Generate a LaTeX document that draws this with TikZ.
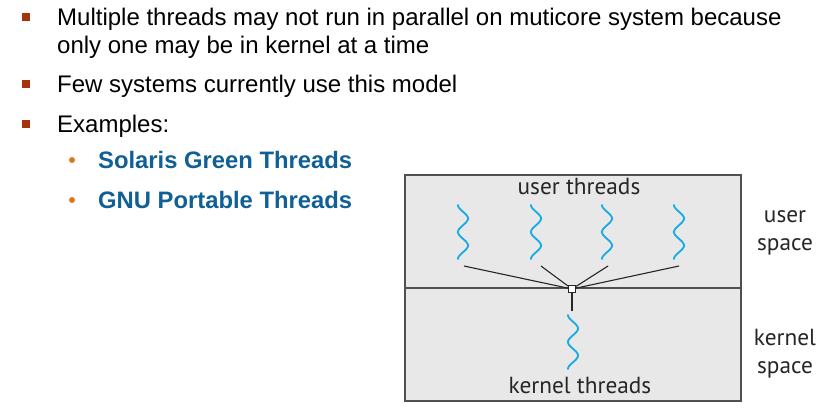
\documentclass[tikz,border=0pt]{standalone}
\usepackage{fontspec}
\setmainfont{Liberation Sans}
\newfontfamily\figfont{PT Sans}
\definecolor{bulletbrown}{RGB}{165,52,12}
\definecolor{bulletorange}{RGB}{222,118,30}
\definecolor{exblue}{RGB}{16,96,150}
\definecolor{threadblue}{RGB}{22,170,228}
\definecolor{boxgray}{RGB}{232,232,232}
\definecolor{edgegray}{RGB}{80,80,80}

\newcommand\wavy[1]{\draw [thread, shift={(#1)}] plot [domain=0:1, samples=50, smooth] ({-5*cos(720*\x)}, {54*\x});}

\begin{document}
\begin{tikzpicture}[
  x=1pt, y=-1pt,
  txt/.style={anchor=base west, inner sep=0pt, font=\fontsize{24}{28}\selectfont},
  extxt/.style={anchor=base west, inner sep=0pt, font=\fontsize{23.8}{26}\selectfont\bfseries, text=exblue},
  lbl/.style={anchor=base, inner sep=0pt, font=\figfont\fontsize{23.3}{28}\selectfont, text=black!85, align=center},
  thread/.style={threadblue, line width=1.8pt, line cap=round},
  link/.style={black!85, line width=1.1pt}
]
\useasboundingbox (0,0) rectangle (838,413);

% bullet list
\fill [bulletbrown] (22,13) rectangle (30,21);
\fill [bulletbrown] (22,80) rectangle (30,88);
\fill [bulletbrown] (22,120) rectangle (30,128);
\node [txt] (b1) at (57,25) {Multiple threads may not run in parallel on muticore system because};
\node [txt] (b1b) at (57,53) {only one may be in kernel at a time};
\node [txt] (b2) at (57,92) {Few systems currently use this model};
\node [txt] (b3) at (57,132) {Examples:};
\fill [bulletorange] (72,160) circle [radius=3];
\fill [bulletorange] (72,200) circle [radius=3];
\node [extxt] (ex1) at (98,168) {Solaris Green Threads};
\node [extxt] (ex2) at (98,208) {GNU Portable Threads};

% many-to-one model
\draw [fill=boxgray, draw=edgegray, line width=1.2pt] (405,175) rectangle (741,401);
\draw [edgegray, line width=1.2pt] (405,288) -- (741,288);
\node [lbl] (ut) at (579,194) {user threads};
\node [lbl] (kt) at (580,393) {kernel threads};
\node [lbl] (us) at (785,250) {user\\space};
\node [lbl] (ks) at (785,373) {kernel\\space};

\wavy{463,205}
\wavy{536,205}
\wavy{607,205}
\wavy{679,205}
\wavy{573,315}

\coordinate (u1) at (464,266);
\coordinate (u2) at (541,266);
\coordinate (u3) at (608,266);
\coordinate (u4) at (679,266);
\coordinate (k1) at (572,311);
\node [draw=black!85, fill=white, line width=1.1pt, minimum size=7pt, inner sep=0pt] (joint) at (572,289) {};
\draw [link] (u1) -- (joint);
\draw [link] (u2) -- (joint);
\draw [link] (u3) -- (joint);
\draw [link] (u4) -- (joint);
\draw [link] (joint) -- (k1);

\end{tikzpicture}
\end{document}
